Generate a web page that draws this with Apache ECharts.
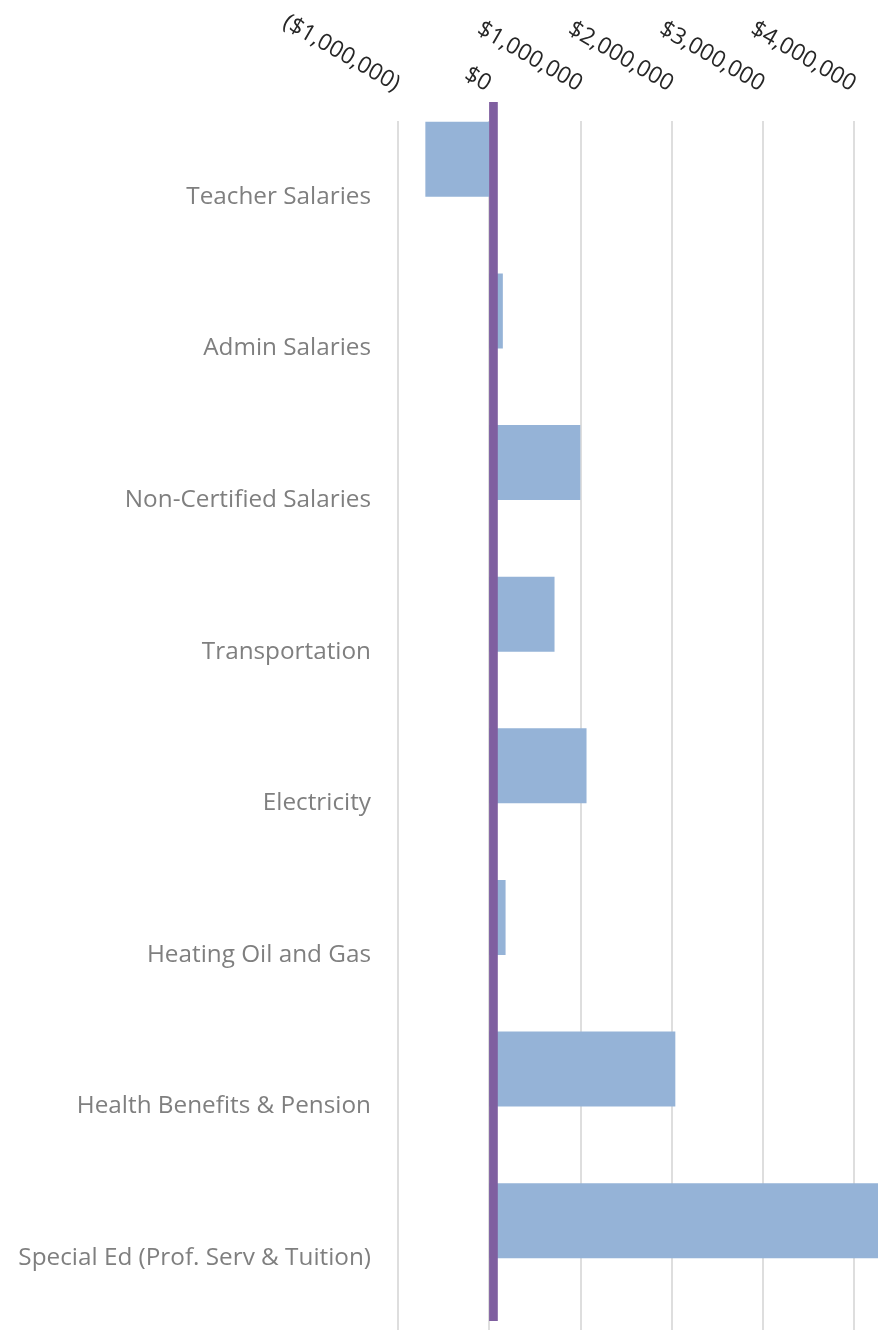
<!DOCTYPE html>
<html>
<head>
<meta charset="utf-8">
<script src="https://cdn.jsdelivr.net/npm/echarts@6/dist/echarts.min.js"></script>
<style>
html,body{margin:0;padding:0;background:#fff;}
#chart{width:886px;height:1330px;}
</style>
</head>
<body>
<div id="chart"></div>
<script>
const categories = [
  "Teacher Salaries",
  "Admin Salaries",
  "Non-Certified Salaries",
  "Transportation",
  "Electricity",
  "Heating Oil and Gas",
  "Health Benefits & Pension",
  "Special Ed (Prof. Serv & Tuition)"
];
const changeValues = [-700000, 150000, 1000000, 717000, 1068000, 180000, 2042000, 4265000];
const emptySeries = [null, null, null, null, null, null, null, null];
const axisTicks = [-1000000, 0, 1000000, 2000000, 3000000, 4000000, 5000000];
const refLineValue = [47000];

function fmt(v) {
  const s = '$' + Math.abs(v).toLocaleString('en-US');
  return v < 0 ? '(' + s + ')' : s;
}

const FONT = 'Open Sans';
const chart = echarts.init(document.getElementById('chart'));
chart.setOption({
  animation: false,
  backgroundColor: '#ffffff',
  grid: [
    {left: 398, right: -59, top: 121, bottom: -4, containLabel: false, outerBoundsMode: 'none'},
    {left: 398, right: -59, top: 102, bottom: 9, containLabel: false, outerBoundsMode: 'none'}
  ],
  xAxis: [
    {
      type: 'value', gridIndex: 0, position: 'top',
      min: axisTicks[0], max: axisTicks[axisTicks.length - 1], interval: 1000000,
      axisLine: {show: false}, axisTick: {show: false},
      splitLine: {show: true, lineStyle: {color: '#dedede', width: 2}},
      axisLabel: {
        rotate: 30, margin: 35, fontFamily: FONT, fontSize: 23, color: '#262626',
        formatter: fmt, showMaxLabel: false, hideOverlap: false
      }
    },
    {
      type: 'value', gridIndex: 1, show: false,
      min: axisTicks[0], max: axisTicks[axisTicks.length - 1]
    }
  ],
  yAxis: [
    {
      type: 'category', gridIndex: 0, data: categories, inverse: true,
      axisLine: {show: false}, axisTick: {show: false}, splitLine: {show: false},
      axisLabel: {margin: 27, fontFamily: FONT, fontSize: 24.3, color: '#7f7f7f'}
    },
    {
      type: 'value', gridIndex: 1, show: false, min: 0, max: 1
    }
  ],
  series: [
    {
      type: 'bar', xAxisIndex: 0, yAxisIndex: 0, data: changeValues,
      itemStyle: {color: '#95b3d7'}, barGap: '0%', barCategoryGap: '1%'
    },
    {
      type: 'bar', xAxisIndex: 0, yAxisIndex: 0, data: emptySeries,
      itemStyle: {color: '#95b3d7'}
    },
    {
      type: 'line', xAxisIndex: 1, yAxisIndex: 1, symbol: 'none',
      data: [[refLineValue[0], 0], [refLineValue[0], 1]],
      lineStyle: {color: '#7f5fa0', width: 8.7, cap: 'butt'}
    }
  ]
});
</script>
</body>
</html>
